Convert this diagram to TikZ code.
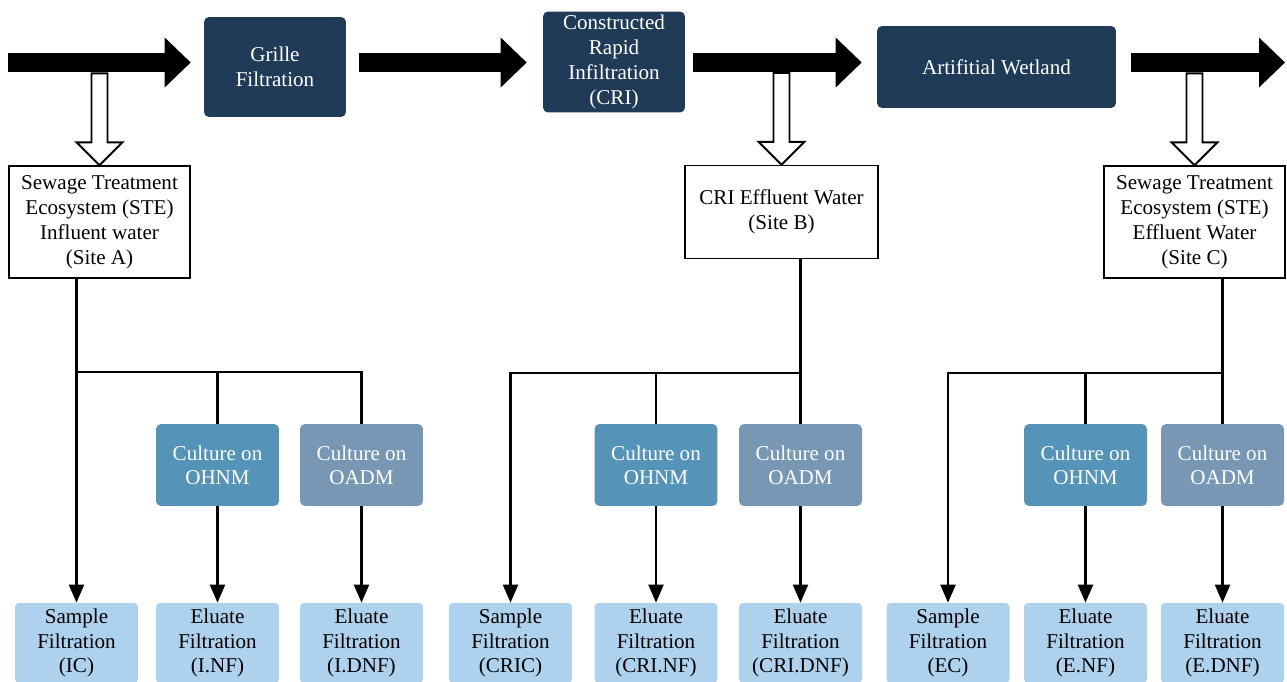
\documentclass[tikz,border=0pt]{standalone}
\usepackage{fontspec}
\setmainfont{Liberation Serif}
\usetikzlibrary{arrows.meta}

\definecolor{navy}{HTML}{1F3B57}
\definecolor{ohnmblue}{HTML}{5593B8}
\definecolor{oadmblue}{HTML}{7797B5}
\definecolor{paleblue}{HTML}{AED1EE}

\begin{document}
\begin{tikzpicture}[x=0.02cm, y=-0.02cm,
    font=\fontsize{12}{13.9}\selectfont,
    stage/.style={fill=navy, text=white, rounded corners=0.1cm, align=center, inner sep=0pt, minimum width=2.84cm, font=\fontsize{12}{14.3}\selectfont},
    site/.style={draw, line width=0.8pt, fill=white, align=center, inner sep=0pt, font=\fontsize{12}{14.3}\selectfont},
    culture/.style={rounded corners=0.1cm, text=white, align=center, inner sep=0pt, minimum width=2.46cm, minimum height=1.64cm},
    result/.style={fill=paleblue, rounded corners=0.08cm, align=center, inner sep=0pt, minimum width=2.46cm, minimum height=1.6cm},
    flow/.style={line width=0.38cm, -{Triangle[length=0.52cm, width=1cm, line width=0pt]}},
    link/.style={line width=1.2pt},
    feed/.style={link, -{Triangle[length=0.36cm, width=0.3cm]}},
    hollow/.pic={\draw[line width=1.1pt, fill=white, line join=miter] (-8,-92) -- (8,-92) -- (8,-23) -- (23,-23) -- (0,0) -- (-23,-23) -- (-8,-23) -- cycle;}
]
    \useasboundingbox (0,0) rectangle (1287,682);
    % Treatment stages
    \node[stage, minimum height=2cm] (grille) at (275,67) {Grille\\Filtration};
    \node[stage, minimum height=2.02cm] (cri) at (614,62) {Constructed\\Rapid\\Infiltration\\(CRI)};
    \node[stage, minimum width=4.78cm, minimum height=1.64cm] (wetland) at (996.5,67) {Artifitial Wetland};
    % Sampling sites
    \node[site, minimum width=3.62cm, minimum height=2.24cm] (siteA) at (99.5,222) {Sewage Treatment\\Ecosystem (STE)\\Influent water\\(Site A)};
    \node[site, minimum width=3.86cm, minimum height=1.86cm] (siteB) at (781.5,212) {CRI Effluent Water\\(Site B)};
    \node[site, minimum width=3.62cm, minimum height=2.24cm] (siteC) at (1194.5,222) {Sewage Treatment\\Ecosystem (STE)\\Effluent Water\\(Site C)};
    % Cultures and filtrations for each site
    \foreach \s/\xs/\xn/\xd/\lab/\pre in {A/76.5/217.5/361.5/IC/I, B/510.5/656/800.5/CRIC/CRI, C/948/1085.5/1222.5/EC/E} {
        \node[culture, fill=ohnmblue] (ohnm\s) at (\xn,465) {Culture on\\OHNM};
        \node[culture, fill=oadmblue] (oadm\s) at (\xd,465) {Culture on\\OADM};
        \node[result] (sample\s) at (\xs,643) {Sample\\Filtration\\(\lab)};
        \node[result] (eluN\s) at (\xn,643) {Eluate\\Filtration\\(\pre.NF)};
        \node[result] (eluD\s) at (\xd,643) {Eluate\\Filtration\\(\pre.DNF)};
    }
    % Hollow arrows down to the sites
    \path (siteA.north) pic {hollow};
    \path (siteB.north) pic {hollow};
    \path (siteC.north) pic {hollow};
    % Main flow
    \coordinate (inlet) at (8,62.5);
    \coordinate (outlet) at (1285,62.5);
    \draw[flow, shorten >=0.26cm] (inlet) -- (inlet -| grille.west);
    \draw[flow, shorten <=0.26cm, shorten >=0.32cm] (inlet -| grille.east) -- (inlet -| cri.west);
    \draw[flow, shorten <=0.16cm, shorten >=0.3cm] (inlet -| cri.east) -- (inlet -| wetland.west);
    \draw[flow, shorten <=0.3cm] (inlet -| wetland.east) -- (outlet);
    % Site A tree
    \coordinate (busA) at (0,372);
    \draw[feed] (sampleA |- siteA.south) -- (sampleA.north);
    \draw[link] (sampleA |- busA) -| (ohnmA.north) (ohnmA |- busA) -| (oadmA.north);
    % Site B tree
    \coordinate (busB) at (0,373);
    \draw[link] (oadmB |- siteB.south) -- (oadmB.north);
    \draw[feed] (oadmB |- busB) -| (sampleB.north);
    \draw[link] (ohnmB |- busB) -- (ohnmB.north);
    % Site C tree
    \draw[link] (oadmC |- siteC.south) -- (oadmC.north);
    \draw[feed] (oadmC |- busB) -| (sampleC.north);
    \draw[link] (ohnmC |- busB) -- (ohnmC.north);
    % Culture to filtration
    \foreach \s in {A,B,C} {
        \draw[feed] (ohnm\s.south) -- (eluN\s.north);
        \draw[feed] (oadm\s.south) -- (eluD\s.north);
    }
\end{tikzpicture}
\end{document}
